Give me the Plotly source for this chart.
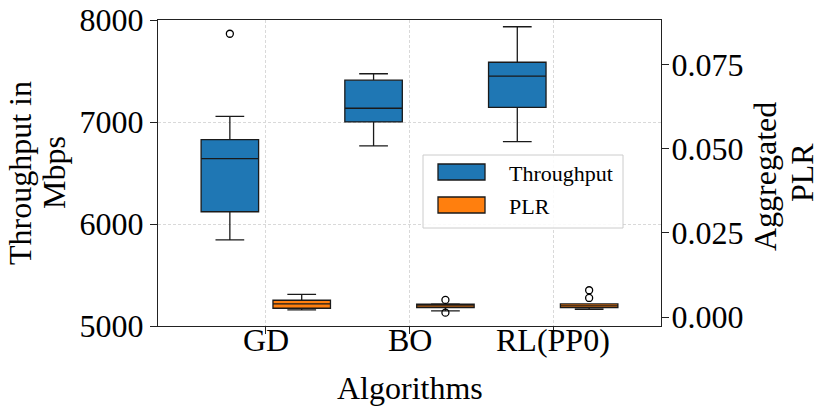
import plotly.graph_objects as go

# ---- data ----
algorithms = ["GD", "BO", "RL(PP0)"]
cat_pos = [0, 1, 2]

tp_lower = [5845, 6765, 6807]
tp_q1 = [6120, 7001, 7144]
tp_median = [6640, 7135, 7449]
tp_q3 = [6827, 7410, 7586]
tp_upper = [7056, 7473, 7934]
tp_outlier_alg = [0]
tp_outlier_val = [7865]

plr_lower = [0.00217, 0.00187, 0.00238]
plr_q1 = [0.00267, 0.00285, 0.00285]
plr_median = [0.00395, 0.00336, 0.00336]
plr_q3 = [0.00505, 0.00386, 0.00395]
plr_upper = [0.00678, 0.00395, 0.00400]
plr_outlier_alg = [1, 1, 2, 2]
plr_outlier_val = [0.00514, 0.00137, 0.00802, 0.00573]

left_ticks = [5000, 6000, 7000, 8000]
right_ticks = [0.0, 0.025, 0.05, 0.075]
series_names = ["Throughput", "PLR"]

OFF = 0.25
BW = 0.4
FONT = "Liberation Serif, Times New Roman, serif"
BLUE = "#1f77b4"
ORANGE = "#ff7f0e"
EDGE = "#1a1a1a"

W, H = 830, 412
PL, PR, PT, PB = 158, 661, 20, 326  # plot-area pixel edges


def px2paper_x(px):
    return (px - PL) / (PR - PL)


def px2paper_y(py):
    return (PB - py) / (PB - PT)


fig = go.Figure()
fig.add_trace(go.Box(
    x=[p - OFF for p in cat_pos], q1=tp_q1, median=tp_median, q3=tp_q3,
    lowerfence=tp_lower, upperfence=tp_upper, width=BW, whiskerwidth=0.5,
    fillcolor=BLUE, line=dict(color=EDGE, width=1.3), name=series_names[0],
    yaxis="y", hoverinfo="skip"))
fig.add_trace(go.Box(
    x=[p + OFF for p in cat_pos], q1=plr_q1, median=plr_median, q3=plr_q3,
    lowerfence=plr_lower, upperfence=plr_upper, width=BW, whiskerwidth=0.5,
    fillcolor=ORANGE, line=dict(color=EDGE, width=1.3), name=series_names[1],
    yaxis="y2", hoverinfo="skip"))
fig.add_trace(go.Scatter(
    x=[cat_pos[i] - OFF for i in tp_outlier_alg], y=tp_outlier_val, mode="markers",
    marker=dict(symbol="circle-open", size=7, color="black", line=dict(width=1.3)),
    showlegend=False, yaxis="y", hoverinfo="skip"))
fig.add_trace(go.Scatter(
    x=[cat_pos[i] + OFF for i in plr_outlier_alg], y=plr_outlier_val, mode="markers",
    marker=dict(symbol="circle-open", size=7, color="black", line=dict(width=1.3)),
    showlegend=False, yaxis="y2", hoverinfo="skip"))

axis_common = dict(
    showline=True, linecolor="#222", linewidth=1.2,
    ticks="outside", ticklen=7, tickwidth=1.2, tickcolor="#222",
    tickfont=dict(family=FONT, size=32, color="black"), zeroline=False,
    ticklabeloverflow="allow")

fig.update_layout(
    width=W, height=H,
    margin=dict(l=PL, r=W - PR, t=PT, b=H - PB, autoexpand=False),
    paper_bgcolor="white", plot_bgcolor="white",
    boxmode="overlay",
    font=dict(family=FONT, color="black"),
    xaxis=dict(range=[-0.75, 2.75], tickvals=cat_pos, showticklabels=False,
               showgrid=True, gridcolor="#d9d9d9", griddash="3px,2px", gridwidth=1,
               mirror=True, **axis_common),
    yaxis=dict(range=[5000, 8000], tickvals=left_ticks,
               showgrid=True, gridcolor="#d9d9d9", griddash="3px,2px", gridwidth=1,
               mirror=True, **axis_common),
    yaxis2=dict(range=[-0.00259, 0.08817], tickvals=right_ticks, tickformat=".3f",
                overlaying="y", side="right", showgrid=False, ticklabelstandoff=-4,
                **axis_common),
    showlegend=False,
)

ann_font = dict(family=FONT, size=32, color="black")
annotations = [
    dict(text="Throughput in", x=0, y=0.5, xref="paper", yref="paper",
         xshift=20 - PL, textangle=-90, showarrow=False, font=ann_font,
         xanchor="center", yanchor="middle"),
    dict(text="Mbps", x=0, y=0.5, xref="paper", yref="paper",
         xshift=54 - PL, textangle=-90, showarrow=False, font=ann_font,
         xanchor="center", yanchor="middle"),
    dict(text="Aggregated", x=1, y=0.5, xref="paper", yref="paper",
         xshift=765 - PR, yshift=-4, textangle=-90, showarrow=False, font=ann_font,
         xanchor="center", yanchor="middle"),
    dict(text="PLR", x=1, y=0.5, xref="paper", yref="paper",
         xshift=802 - PR, textangle=-90, showarrow=False, font=ann_font,
         xanchor="center", yanchor="middle"),
    dict(text="Algorithms", x=0.5, y=0, xref="paper", yref="paper",
         yshift=-(388 - PB), showarrow=False, font=ann_font,
         xanchor="center", yanchor="middle"),
]
# category tick labels
for pos, lab in zip(cat_pos, algorithms):
    annotations.append(dict(text=lab, x=pos, y=0, xref="x", yref="paper",
                            yshift=-(344 - PB) + 4, showarrow=False, font=ann_font,
                            xanchor="center", yanchor="middle"))

# hand-drawn legend (matplotlib style)
leg_font = dict(family=FONT, size=22, color="black")
shapes = [dict(type="rect", xref="paper", yref="paper",
               x0=px2paper_x(423), x1=px2paper_x(623),
               y0=px2paper_y(228), y1=px2paper_y(155),
               line=dict(color="#cccccc", width=1), fillcolor="rgba(255,255,255,0.85)",
               layer="above")]
for name, col, cy in zip(series_names, [BLUE, ORANGE], [172, 205]):
    shapes.append(dict(type="rect", xref="paper", yref="paper",
                       x0=px2paper_x(438), x1=px2paper_x(485),
                       y0=px2paper_y(cy + 8), y1=px2paper_y(cy - 8),
                       line=dict(color=EDGE, width=1.3), fillcolor=col, layer="above"))
    annotations.append(dict(text=name, x=px2paper_x(507), y=px2paper_y(cy + 1),
                            xref="paper", yref="paper", showarrow=False,
                            font=leg_font, xanchor="left", yanchor="middle"))

fig.update_layout(annotations=annotations, shapes=shapes)

fig.write_html("out.html", config={"displayModeBar": False},
               post_script="document.body.style.margin='0';document.body.style.padding='0';")
